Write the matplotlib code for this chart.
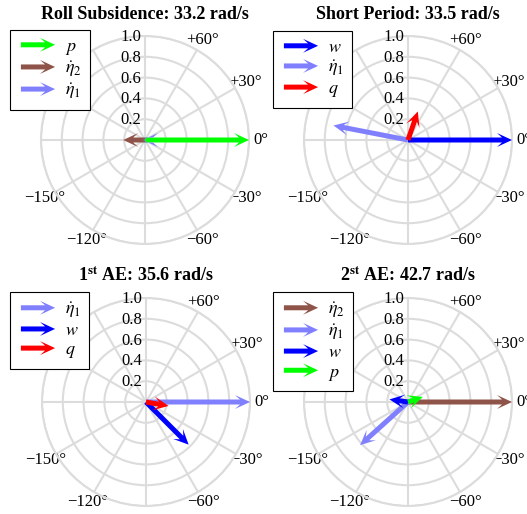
import numpy as np
import matplotlib
matplotlib.use('Agg')
import matplotlib.pyplot as plt
import matplotlib.transforms as mtransforms
from matplotlib.patches import FancyArrowPatch, ArrowStyle
from matplotlib.path import Path
from matplotlib.legend_handler import HandlerPatch

plt.rcParams['font.family'] = ['Liberation Serif', 'DejaVu Serif']
plt.rcParams['mathtext.fontset'] = 'stix'
plt.rcParams['font.size'] = 12

GREEN = '#00ff00'
BROWN = '#8f5449'
LBLUE = '#8080ff'
BLUE = '#0000ff'
RED = '#ff0000'
GRID = '#dcdcdc'

# mode titles
titles = [
    'Roll Subsidence: 33.2 rad/s',
    'Short Period: 33.5 rad/s',
    r'1$^{\mathbf{st}}$ AE: 35.6 rad/s',
    r'2$^{\mathbf{st}}$ AE: 42.7 rad/s',
]

# mode shape components: label, phase [deg], normalised magnitude, colour
roll_labels = ['$p$', r'$\dot{\eta}_2$', r'$\dot{\eta}_1$']
roll_phase = [0, 180, 180]
roll_mag = [1.0, 0.21, 0.02]
roll_colors = [GREEN, BROWN, LBLUE]

sp_labels = ['$w$', r'$\dot{\eta}_1$', '$q$']
sp_phase = [0, 169, 71]
sp_mag = [1.0, 0.73, 0.29]
sp_colors = [BLUE, LBLUE, RED]

ae1_labels = [r'$\dot{\eta}_1$', '$w$', '$q$']
ae1_phase = [0, -45, -10]
ae1_mag = [1.0, 0.58, 0.22]
ae1_colors = [LBLUE, BLUE, RED]

ae2_labels = [r'$\dot{\eta}_2$', r'$\dot{\eta}_1$', '$w$', '$p$']
ae2_phase = [0, -138, 172, 19]
ae2_mag = [1.0, 0.62, 0.18, 0.15]
ae2_colors = [BROWN, LBLUE, BLUE, GREEN]

modes = [
    (roll_labels, roll_phase, roll_mag, roll_colors),
    (sp_labels, sp_phase, sp_mag, sp_colors),
    (ae1_labels, ae1_phase, ae1_mag, ae1_colors),
    (ae2_labels, ae2_phase, ae2_mag, ae2_colors),
]

theta_ticks = np.arange(0, 360, 30)
theta_labels = ['0°', '+30°', '+60°', '', '', '', '',
                '\u2212150°', '\u2212120°', '', '\u221260°', '\u221230°']
r_ticks = [0.2, 0.4, 0.6, 0.8, 1.0]


class Stealth(ArrowStyle._Base):
    """Solid shaft with a notched (stealth) head; sizes in points."""

    def __init__(self, tail_width=3.6, head_width=10.0, head_length=10.8, inset=3.6):
        self.tail_width = tail_width
        self.head_width = head_width
        self.head_length = head_length
        self.inset = inset
        super().__init__()

    def transmute(self, path, mutation_size, linewidth):
        x0, y0 = path.vertices[0]
        x1, y1 = path.vertices[-1]
        d = np.array([x1 - x0, y1 - y0])
        n = np.hypot(*d)
        d = d / n if n > 0 else np.array([1.0, 0.0])
        p = np.array([-d[1], d[0]])
        s = mutation_size
        tw, hw, hl, ins = (self.tail_width * s / 2, self.head_width * s / 2,
                           self.head_length * s, self.inset * s)
        start = np.array([x0, y0])
        tip = np.array([x1, y1])
        back = tip - d * hl
        notch = back + d * ins
        verts = [start + p * tw, notch + p * tw, back + p * hw, tip,
                 back - p * hw, notch - p * tw, start - p * tw, start + p * tw]
        codes = [Path.MOVETO] + [Path.LINETO] * 6 + [Path.CLOSEPOLY]
        return Path(verts, codes), True


def legend_arrow(legend, orig_handle, xdescent, ydescent, width, height, fontsize):
    return FancyArrowPatch((-xdescent, height / 2 - ydescent),
                           (width - xdescent, height / 2 - ydescent),
                           arrowstyle=Stealth(), mutation_scale=1, lw=0,
                           color=orig_handle.get_facecolor())


fig = plt.figure(figsize=(5.27, 5.14), dpi=100)

# panel centres (figure pixels) and radius
centres = [(145, 140), (408, 140), (146, 402), (408, 402)]
R = 104
W, H = 527, 514
legend_corners = [(10, 30), (273, 31), (10, 292), (273, 292)]

for k, (labels, phase, mag, colors) in enumerate(modes):
    cx, cy = centres[k]
    ax = fig.add_axes([(cx - R) / W, 1 - (cy + R) / H, 2 * R / W, 2 * R / H],
                      projection='polar')
    ax.set_ylim(0, 1)
    ax.set_thetagrids(theta_ticks, theta_labels)
    ax.set_rticks(r_ticks)
    ax.set_yticklabels([])
    ax.grid(True, color=GRID, lw=1.5)
    ax.spines['polar'].set_color(GRID)
    ax.spines['polar'].set_linewidth(1.5)
    ax.tick_params(axis='x', pad=1.5, length=0, labelsize=12)
    ax.tick_params(axis='y', length=0)
    ax.set_title(titles[k], fontweight='bold', fontsize=13, y=1.0, pad=12)

    # radial labels along the vertical spoke
    off = mtransforms.offset_copy(ax.transData, fig=fig, x=-4, y=-1, units='dots')
    for r in r_ticks:
        ax.text(np.pi / 2, r, f'{r:.1f}', transform=off, ha='right', va='center',
                fontsize=12)

    handles = []
    for lab, ph, m, c in zip(labels, phase, mag, colors):
        arr = FancyArrowPatch((0, 0), (np.deg2rad(ph), m), transform=ax.transData,
                              arrowstyle=Stealth(), mutation_scale=1, lw=0,
                              color=c, shrinkA=0, shrinkB=0,
                              label=lab, zorder=3, clip_on=False)
        ax.add_patch(arr)
        handles.append(arr)

    lx, ly = legend_corners[k]
    leg = ax.legend(handles=handles, loc='upper left',
                    bbox_to_anchor=(lx / W, 1 - ly / H),
                    bbox_transform=fig.transFigure, borderaxespad=0,
                    handler_map={FancyArrowPatch: HandlerPatch(patch_func=legend_arrow)},
                    fancybox=False, framealpha=1, edgecolor='black',
                    handlelength=2.2, handletextpad=0.4, labelspacing=0.12,
                    borderpad=0.45, fontsize=13)
    leg.get_frame().set_linewidth(0.8)
    leg.set_zorder(10)

fig.savefig('out.png', dpi=100)
